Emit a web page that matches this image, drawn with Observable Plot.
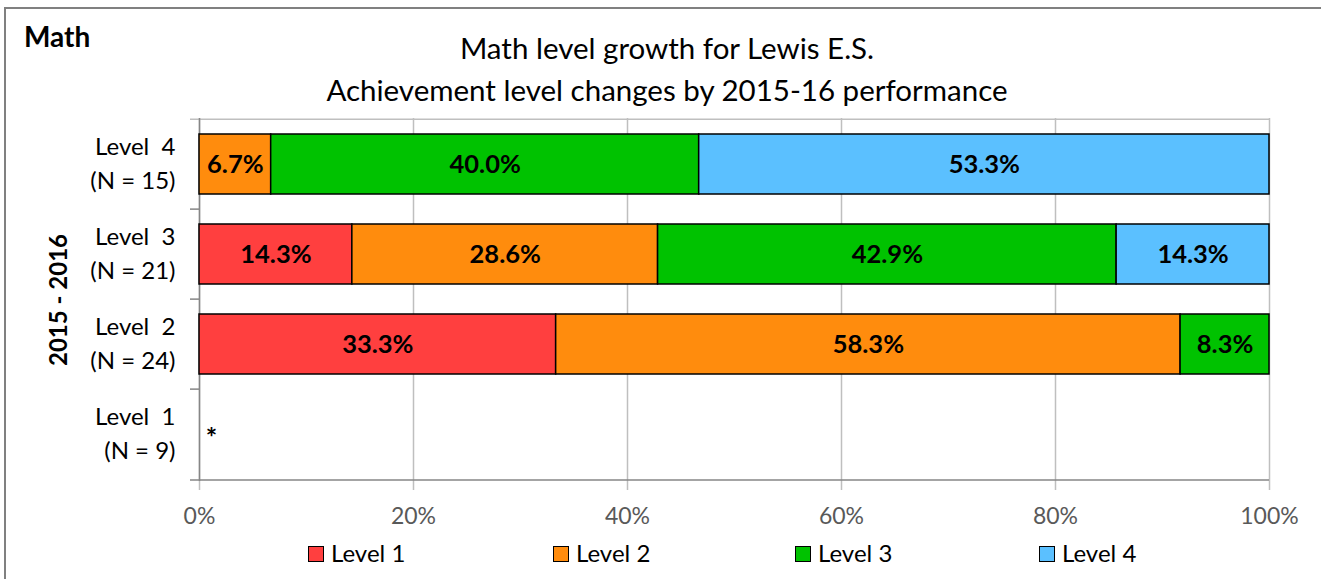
<!DOCTYPE html>
<html><head><meta charset="utf-8">
<script src="https://cdn.jsdelivr.net/npm/d3@7"></script>
<script src="https://cdn.jsdelivr.net/npm/@observablehq/plot@0.6"></script>
<style>
body{margin:0;background:#fff;font-family:Lato,"Open Sans",sans-serif;}
#wrap{position:relative;width:1321px;height:579px;overflow:hidden;background:#fff;}
#frame{position:absolute;left:4px;top:7px;width:2000px;height:2000px;border-left:2px solid #808080;border-top:2px solid #808080;}
#subject{position:absolute;left:24px;top:20px;font-size:28px;font-weight:bold;line-height:32px;color:#000;}
#title{position:absolute;left:0;top:27px;width:1334px;text-align:center;font-size:29.5px;line-height:42px;color:#000;}
#chart{position:absolute;left:0;top:100px;}
#chart svg text{white-space:pre;}
.leg{position:absolute;top:540px;height:26px;line-height:26px;font-size:24px;color:#000;white-space:nowrap;}
.sw{display:inline-block;width:14px;height:14px;border:1.5px solid #000;vertical-align:middle;margin-right:7px;position:relative;top:-2px;}
</style>
</head><body>
<div id="wrap">
  <div id="frame"></div>
  <div id="subject"></div>
  <div id="title"></div>
  <div id="chart"></div>
  <div id="legend"></div>
</div>
<script>
// ---- data ----
const subject = "Math";
const titleLines = ["Math level growth for Lewis E.S.", "Achievement level changes by 2015-16 performance"];
const yTitle = "2015 - 2016";
const rowLabels = ["Level  4", "Level  3", "Level  2", "Level  1"];
const rowN = [15, 21, 24, 9];
const seriesNames = ["Level 1", "Level 2", "Level 3", "Level 4"];
const seriesColors = ["#FF3F3F", "#FF8C0D", "#00C200", "#5BC0FF"];
// percent of each 2015-16 row reaching each level (row order as rowLabels)
const pctLevel1 = [0, 14.3, 33.3, 0];
const pctLevel2 = [6.7, 28.6, 58.3, 0];
const pctLevel3 = [40.0, 42.9, 8.3, 0];
const pctLevel4 = [53.3, 14.3, 0, 0];
const suppressedRows = ["Level  1"];
const suppressedMark = "*";
const xTicks = [0, 0.2, 0.4, 0.6, 0.8, 1.0];
const legendLeft = [308, 553, 795, 1039];

// ---- build table ----
const seriesValues = [pctLevel1, pctLevel2, pctLevel3, pctLevel4];
const table = [];
rowLabels.forEach((row, i) => {
  seriesNames.forEach((s, j) => {
    const v = seriesValues[j][i];
    if (v > 0) table.push({row, series: s, value: v});
  });
});

document.getElementById("subject").textContent = subject;
document.getElementById("title").innerHTML = titleLines.map(t => `<div>${t}</div>`).join("");

const W = 1321, H = 440, ML = 199, MR = 52, MT = 18, MB = 59;
const step = (H - MT - MB) / rowLabels.length;
const fmtPct = d3.format(".0%");

const chart = Plot.plot({
  width: W, height: H,
  marginLeft: ML, marginRight: MR, marginTop: MT, marginBottom: MB,
  style: {fontFamily: "Lato, 'Open Sans', sans-serif", background: "transparent", overflow: "visible"},
  x: {domain: [0, 1], axis: null, label: null},
  y: {domain: rowLabels, paddingInner: 0.33, paddingOuter: 0.165, axis: null, label: null},
  color: {domain: seriesNames, range: seriesColors},
  marks: [
    Plot.gridX(xTicks, {stroke: "#BFBFBF", strokeOpacity: 1, strokeWidth: 1.5, insetBottom: -9}),
    Plot.ruleY([rowLabels[0]], {y: d => d, dy: -step / 2, insetLeft: -9, stroke: "#BFBFBF", strokeWidth: 1.5}),
    Plot.ruleY(rowLabels.slice(1), {y: d => d, dy: -step / 2, insetLeft: -9, insetRight: W - ML - MR, stroke: "#868686", strokeWidth: 1.5}),
    Plot.ruleY([rowLabels[rowLabels.length - 1]], {y: d => d, dy: step / 2, insetLeft: -9, stroke: "#868686", strokeWidth: 1.5}),
    Plot.ruleX([0], {stroke: "#868686", strokeWidth: 1.5}),
    Plot.barX(table, Plot.stackX({x: "value", y: "row", z: "series", offset: "normalize", fill: "series", stroke: "#000", strokeWidth: 1.5})),
    Plot.text(table, Plot.stackX({x: "value", y: "row", z: "series", offset: "normalize", text: d => d.value.toFixed(1) + "%", fontSize: 25.5, fontWeight: "bold", fill: "#000"})),
    Plot.text(suppressedRows, {x: () => 0, y: d => d, text: () => suppressedMark, dx: 12, dy: 4, fontSize: 27, fontWeight: "bold", fill: "#000"}),
    Plot.axisX(xTicks, {tickFormat: fmtPct, tickSize: 0, tickPadding: 26, fontSize: 23, color: "#595959", label: null}),
    Plot.axisY({tickSize: 0, tickPadding: 24, dy: -3, tickFormat: d => d + "\n(N = " + rowN[rowLabels.indexOf(d)] + ")", fontSize: 24, lineHeight: 1.4, textAnchor: "end", color: "#000", label: null}),
    Plot.text([yTitle], {frameAnchor: "left", dx: -140, rotate: -90, textAnchor: "middle", fontSize: 24, fontWeight: "bold", fill: "#000"})
  ]
});
document.getElementById("chart").appendChild(chart);

const legend = document.getElementById("legend");
seriesNames.forEach((s, i) => {
  const item = document.createElement("div");
  item.className = "leg";
  item.style.left = legendLeft[i] + "px";
  item.innerHTML = `<span class="sw" style="background:${seriesColors[i]}"></span>${s}`;
  legend.appendChild(item);
});
</script>
</body></html>
